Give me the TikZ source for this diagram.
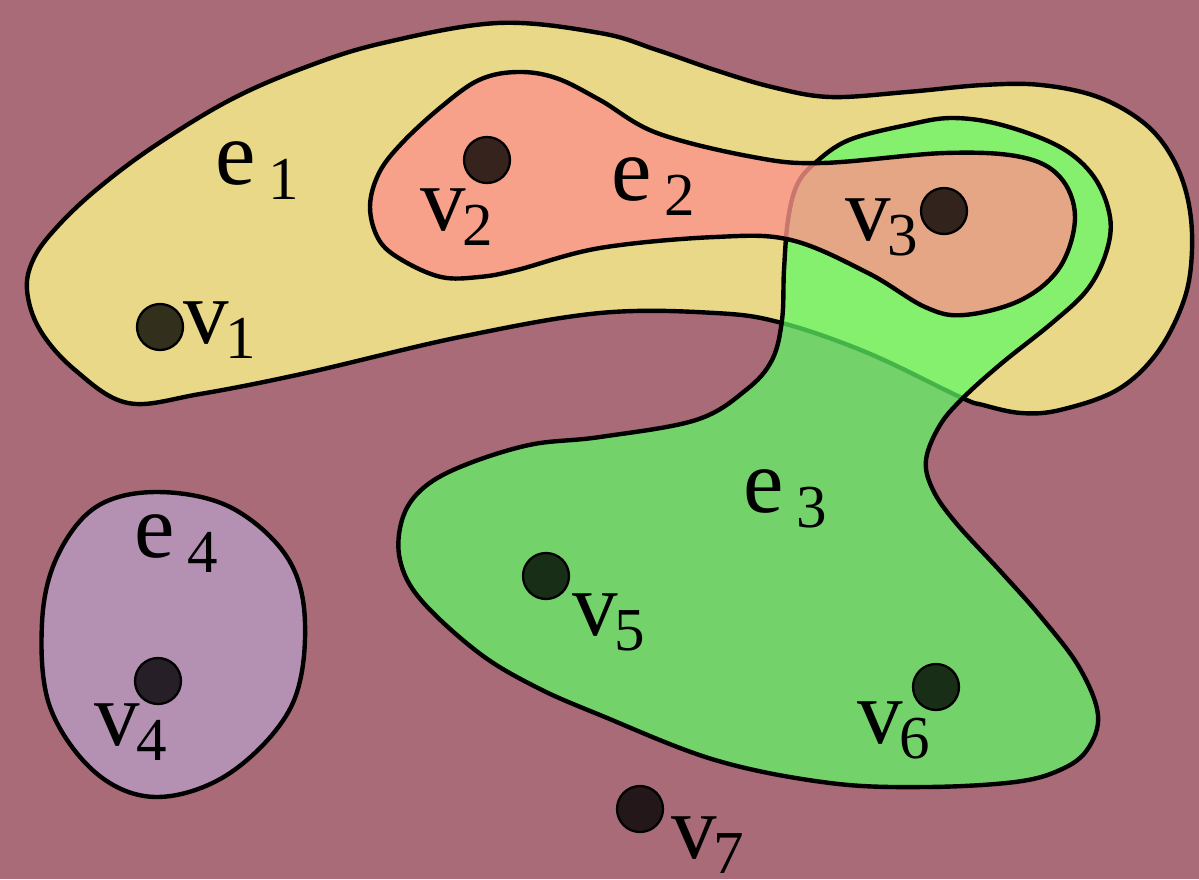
\documentclass[tikz,border=0pt]{standalone}
\usepackage{fontspec}
\setmainfont{Liberation Serif}
\definecolor{bgc}{RGB}{168,107,119}
\definecolor{yel}{RGB}{232,216,135}
\definecolor{sal}{RGB}{252,148,139}
\definecolor{grn}{RGB}{96,250,101}
\definecolor{lil}{RGB}{180,145,178}
\newcommand\vsb[1]{\kern-3pt\raisebox{-15pt}[0pt][0pt]{\fontsize{61}{61}\selectfont #1}}
\newcommand\esb[1]{\kern13pt\raisebox{-15pt}[0pt][0pt]{\fontsize{61}{61}\selectfont #1}}
\tikzset{
  hedge/.style={line width=4.4pt, line join=round, draw=black},
  vert/.style={circle, minimum size=46pt, inner sep=0pt, draw=black, line width=2.3pt, fill=black, fill opacity=0.78, draw opacity=1},
  lab/.style={inner sep=0pt, anchor=base west, font=\fontsize{91}{91}\selectfont},
}
\begin{document}
\begin{tikzpicture}[x=1pt,y=-1pt]
\useasboundingbox (0,0) rectangle (1199,879);
\fill[bgc] (0,0) rectangle (1199,879);
% e1
\draw[hedge, fill=yel] plot[smooth cycle, tension=0.6] coordinates {
 (27,290) (34,258) (57,227) (96,190) (153,147) (230,100) (306,67) (383,43) (498,23)
 (600,33) (657,50) (715,70) (772,87) (830,97) (907,92) (983,85) (1041,85) (1098,97)
 (1144,123) (1172,157) (1188,200) (1192,250) (1184,300) (1157,353) (1117,390) (1060,410)
 (1021,413) (983,405) (960,397) (868,353) (782,323) (715,313) (600,313) (460,337)
 (306,373) (200,394) (128,403) (75,370) (40,330)};
% e4
\draw[hedge, fill=lil] plot[smooth cycle, tension=0.6] coordinates {
 (157,492) (230,507) (287,557) (305,623) (291,707) (230,773) (157,797) (96,773)
 (50,707) (42,623) (57,557) (96,507)};
% e3
\fill[grn, fill opacity=0.72] plot[smooth cycle, tension=0.6] coordinates {
 (815,163) (849,140) (907,125) (952,118) (1002,125) (1060,147) (1094,177) (1110,217)
 (1106,253) (1087,290) (1052,323) (1002,363) (964,397) (940,425) (926,460) (933,490)
 (956,523) (1002,573) (1041,617) (1079,667) (1098,715) (1087,750) (1060,770) (1015,782)
 (926,787) (830,783) (715,760) (600,715) (536,687) (479,653) (421,600) (400,560)
 (402,520) (421,490) (460,467) (529,445) (600,437) (696,420) (746,390) (772,360)
 (782,320) (784,270) (788,220) (797,185)};
\draw[hedge] plot[smooth cycle, tension=0.6] coordinates {
 (815,163) (849,140) (907,125) (952,118) (1002,125) (1060,147) (1094,177) (1110,217)
 (1106,253) (1087,290) (1052,323) (1002,363) (964,397) (940,425) (926,460) (933,490)
 (956,523) (1002,573) (1041,617) (1079,667) (1098,715) (1087,750) (1060,770) (1015,782)
 (926,787) (830,783) (715,760) (600,715) (536,687) (479,653) (421,600) (400,560)
 (402,520) (421,490) (460,467) (529,445) (600,437) (696,420) (746,390) (772,360)
 (782,320) (784,270) (788,220) (797,185)};
% e2
\fill[sal, fill opacity=0.8] plot[smooth cycle, tension=0.6] coordinates {
 (370,207) (379,173) (402,143) (441,107) (479,80) (517,72) (556,78) (600,100) (657,133)
 (753,157) (822,163) (945,153) (1021,157) (1060,177) (1075,217) (1060,267) (1021,300)
 (964,315) (925,307) (868,273) (791,240) (715,237) (600,248) (517,270) (479,277)
 (441,277) (402,260) (379,240)};
\draw[hedge] plot[smooth cycle, tension=0.6] coordinates {
 (370,207) (379,173) (402,143) (441,107) (479,80) (517,72) (556,78) (600,100) (657,133)
 (753,157) (822,163) (945,153) (1021,157) (1060,177) (1075,217) (1060,267) (1021,300)
 (964,315) (925,307) (868,273) (791,240) (715,237) (600,248) (517,270) (479,277)
 (441,277) (402,260) (379,240)};
% vertices
\node[vert] (v1) at (160,327) {};
\node[vert] (v2) at (487,160) {};
\node[vert] (v3) at (944,211) {};
\node[vert] (v4) at (158,681) {};
\node[vert] (v5) at (546,576) {};
\node[vert] (v6) at (936,687) {};
\node[vert] (v7) at (640,809) {};
% labels
\node[lab] (lv1) at (183,343) {v\vsb{1}};
\node[lab] (lv2) at (420,230) {v\vsb{2}};
\node[lab] (lv3) at (845,240) {v\vsb{3}};
\node[lab] (lv4) at (94,745) {v\vsb{4}};
\node[lab] (lv5) at (572,635) {v\vsb{5}};
\node[lab] (lv6) at (857,743) {v\vsb{6}};
\node[lab] (lv7) at (671,858) {v\vsb{7}};
\node[lab] (le1) at (215,184) {e\esb{1}};
\node[lab] (le2) at (611,200) {e\esb{2}};
\node[lab] (le3) at (743,512) {e\esb{3}};
\node[lab] (le4) at (134,557) {e\esb{4}};
\end{tikzpicture}
\end{document}
